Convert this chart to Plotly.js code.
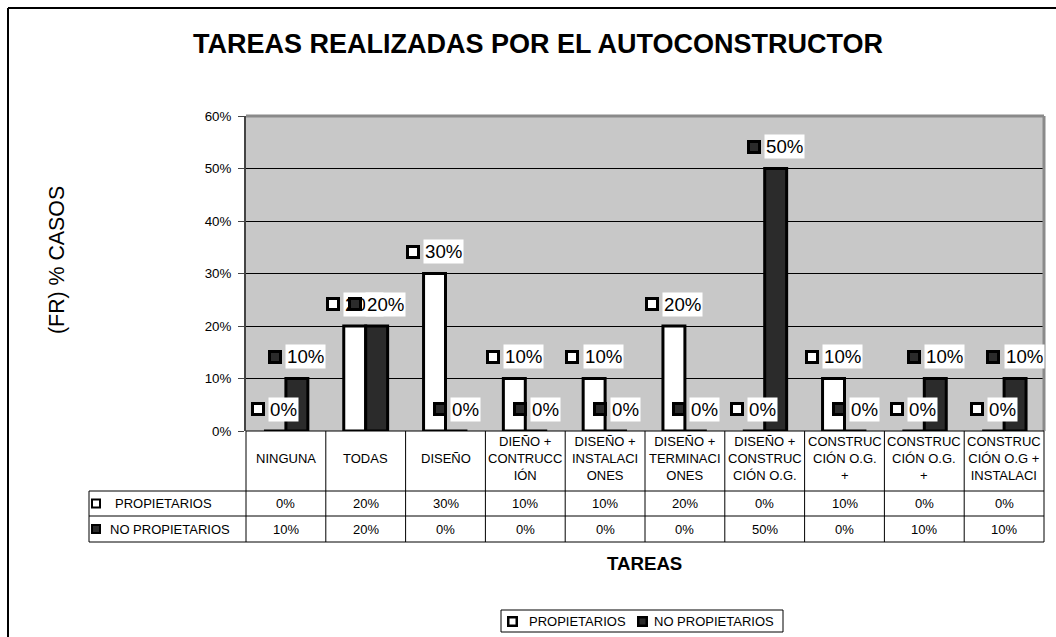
<!DOCTYPE html>
<html>
<head>
<meta charset="utf-8">
<script src="https://cdn.plot.ly/plotly-3.0.1.min.js"></script>
<style>
  html, body { margin: 0; padding: 0; background: #ffffff; }
  #chart { width: 1056px; height: 637px; }
</style>
</head>
<body>
<div id="chart"></div>
<script>
// ---------------- DATA ----------------
const categories = [
  'NINGUNA', 'TODAS', 'DISEÑO', 'DIEÑO + CONTRUCCIÓN', 'DISEÑO + INSTALACIONES',
  'DISEÑO + TERMINACIONES', 'DISEÑO + CONSTRUCCIÓN O.G.', 'CONSTRUCCIÓN O.G. + (a)',
  'CONSTRUCCIÓN O.G. + (b)', 'CONSTRUCCIÓN O.G + INSTALACI'
];
const tickLabels = [
  'NINGUNA', 'TODAS', 'DISEÑO', 'DIEÑO +<br>CONTRUCC<br>IÓN', 'DISEÑO +<br>INSTALACI<br>ONES',
  'DISEÑO +<br>TERMINACI<br>ONES', 'DISEÑO +<br>CONSTRUC<br>CIÓN O.G.', 'CONSTRUC<br>CIÓN O.G.<br>+',
  'CONSTRUC<br>CIÓN O.G.<br>+', 'CONSTRUC<br>CIÓN O.G +<br>INSTALACI'
];
const propietarios   = [0, 20, 30, 10, 10, 20, 0, 10, 0, 0];
const noPropietarios = [10, 20, 0, 0, 0, 0, 50, 0, 10, 10];
const seriesNames = ['PROPIETARIOS', 'NO PROPIETARIOS'];
const yTickValues = [0, 10, 20, 30, 40, 50, 60];
const chartTitle = 'TAREAS REALIZADAS POR EL AUTOCONSTRUCTOR';
const xTitle = 'TAREAS';
const yTitle = '(FR) % CASOS';

// ---------------- STYLE / GEOMETRY ----------------
const FONT = 'Liberation Sans, Arial, sans-serif';
const W = 1056, H = 637;
const L = 246, R = 1044, T = 116, B = 431;      // plot area in pixels
const fx = px => (px - L) / (R - L);             // pixel -> paper x
const fy = py => (B - py) / (B - T);             // pixel -> paper y
const BARGAP = 0.45;
const fills = ['#ffffff', '#2b2b2b'];
const nCat = categories.length;
const catPx = (R - L) / nCat;
const barPx = catPx * (1 - BARGAP) / 2;
const offsets = [-barPx / 2, barPx / 2];
const xs = categories.map((_, i) => i);
const series = [propietarios, noPropietarios];

const canvas = document.createElement('canvas');
const ctx = canvas.getContext('2d');
function textWidth(t, size) {
  ctx.font = size + 'px "Liberation Sans", Arial, sans-serif';
  return ctx.measureText(t).width;
}
const pct = v => v + '%';

// ---------------- TRACES ----------------
const traces = series.map((vals, s) => ({
  type: 'bar',
  name: seriesNames[s],
  x: xs,
  y: vals,
  marker: { color: fills[s], line: { color: '#000000', width: 3 } },
  hoverinfo: 'skip'
}));

// ---------------- ANNOTATIONS ----------------
const annotations = [];
const LBL = 18.67;
function keyBox(extra, fill, size, bw) {
  return Object.assign({
    text: ' ', showarrow: false, width: size, height: size,
    bgcolor: fill, bordercolor: '#000000', borderwidth: bw, borderpad: 0,
    font: { size: 1 }, xanchor: 'center', yanchor: 'middle'
  }, extra);
}
series.forEach((vals, s) => {
  vals.forEach((v, i) => {
    const t = pct(v);
    const tw = textWidth(t, LBL) + 2;
    // legend key square of the data label
    annotations.push(keyBox({
      x: xs[i], y: v, xref: 'x', yref: 'y', xshift: offsets[s] - 2 - tw / 2, yshift: 22
    }, fills[s], 8, 3));
    // value text
    annotations.push({
      x: xs[i], y: v, xref: 'x', yref: 'y',
      xshift: offsets[s] + 9, yshift: 22,
      text: t, showarrow: false, bgcolor: '#ffffff', borderpad: 1,
      font: { family: FONT, size: LBL, color: '#000000' },
      xanchor: 'center', yanchor: 'middle'
    });
  });
});

// data table: header row (category labels)
tickLabels.forEach((lab, i) => {
  annotations.push({
    x: xs[i], y: fy(458), xref: 'x', yref: 'paper', text: lab, showarrow: false,
    font: { family: FONT, size: 13, color: '#000000' }, xanchor: 'center', yanchor: 'middle'
  });
});
// data table: value rows
const rowY = [fy(503.5), fy(529)];
series.forEach((vals, s) => {
  vals.forEach((v, i) => {
    annotations.push({
      x: xs[i], y: rowY[s], xref: 'x', yref: 'paper', text: pct(v), showarrow: false,
      font: { family: FONT, size: 13, color: '#000000' }, xanchor: 'center', yanchor: 'middle'
    });
  });
});
// data table: row headers
const rowTextX = [fx(113), fx(108)];
seriesNames.forEach((nm, s) => {
  annotations.push({
    x: rowTextX[s], y: rowY[s], xref: 'paper', yref: 'paper', text: nm, showarrow: false,
    font: { family: FONT, size: 13, color: '#000000' }, xanchor: 'left', yanchor: 'middle'
  });
});
// legend (drawn as in the reference: box, key squares, names)
const legY = fy(621);
const legKeyX = [512, 642.5];
const legTextX = [527, 652];
seriesNames.forEach((nm, s) => {
  annotations.push(keyBox({ x: fx(legKeyX[s]), y: legY, xref: 'paper', yref: 'paper' }, fills[s], 6, 2.5));
  annotations.push({
    x: fx(legTextX[s]), y: legY, xref: 'paper', yref: 'paper', text: nm, showarrow: false,
    font: { family: FONT, size: 13, color: '#000000' }, xanchor: 'left', yanchor: 'middle'
  });
});
// axis titles
annotations.push({
  x: fx(57), y: fy(260), xref: 'paper', yref: 'paper', text: yTitle, textangle: -90,
  showarrow: false, font: { family: FONT, size: 21.33, color: '#000000' },
  xanchor: 'center', yanchor: 'middle'
});
annotations.push({
  x: fx(644.5), y: fy(563), xref: 'paper', yref: 'paper', text: '<b>' + xTitle + '</b>',
  showarrow: false, font: { family: FONT, size: 18.67, color: '#000000' },
  xanchor: 'center', yanchor: 'middle'
});

// ---------------- SHAPES ----------------
const shapes = [];
const blackLine = { color: '#000000', width: 1 };
// outer chart frame (top + left)
shapes.push({ type: 'line', xref: 'paper', yref: 'paper', x0: fx(8), x1: fx(W + 10), y0: fy(8), y1: fy(8), line: { color: '#000000', width: 2 } });
shapes.push({ type: 'line', xref: 'paper', yref: 'paper', x0: fx(8), x1: fx(8), y0: fy(8), y1: fy(H + 10), line: { color: '#000000', width: 2 } });
// plot area border (top + right)
shapes.push({ type: 'line', xref: 'paper', yref: 'paper', x0: 0, x1: 1, y0: 1, y1: 1, line: { color: '#8a8a8a', width: 3 } });
shapes.push({ type: 'line', xref: 'paper', yref: 'paper', x0: 1, x1: 1, y0: 0, y1: 1, line: { color: '#8a8a8a', width: 3 } });
// table grid
const tTop = 0, tHead = fy(491), tRow = fy(516), tBot = fy(542), tLeft = fx(89);
for (let k = 0; k <= nCat; k++) {
  const xp = k / nCat;
  shapes.push({ type: 'line', xref: 'paper', yref: 'paper', x0: xp, x1: xp, y0: tTop, y1: tBot, line: blackLine });
}
shapes.push({ type: 'line', xref: 'paper', yref: 'paper', x0: 0, x1: 1, y0: tTop, y1: tTop, line: blackLine });
[tHead, tRow, tBot].forEach(yp => {
  shapes.push({ type: 'line', xref: 'paper', yref: 'paper', x0: tLeft, x1: 1, y0: yp, y1: yp, line: blackLine });
});
shapes.push({ type: 'line', xref: 'paper', yref: 'paper', x0: tLeft, x1: tLeft, y0: tHead, y1: tBot, line: blackLine });
// row header key squares
rowY.forEach((yp, s) => {
  const cy = B - yp * (B - T);
  shapes.push({
    type: 'rect', xref: 'paper', yref: 'paper',
    x0: fx(92), x1: fx(100), y0: fy(cy + 4), y1: fy(cy - 4),
    fillcolor: fills[s], line: { color: '#000000', width: 2 }
  });
});
// legend box
shapes.push({
  type: 'rect', xref: 'paper', yref: 'paper',
  x0: fx(501), x1: fx(783), y0: fy(632), y1: fy(610),
  fillcolor: '#ffffff', line: { color: '#000000', width: 1 }, layer: 'below'
});

// ---------------- LAYOUT ----------------
const layout = {
  width: W, height: H,
  margin: { l: L, r: W - R, t: T, b: H - B, pad: 0 },
  paper_bgcolor: '#ffffff',
  plot_bgcolor: '#c8c8c8',
  font: { family: FONT, color: '#000000' },
  title: {
    text: '<b>' + chartTitle + '</b>',
    font: { family: FONT, size: 27, color: '#000000' },
    xref: 'container', yref: 'container', x: 538 / W, y: 1 - 44 / H,
    xanchor: 'center', yanchor: 'middle'
  },
  barmode: 'group',
  bargap: BARGAP,
  bargroupgap: 0,
  showlegend: false,
  xaxis: {
    type: 'linear', range: [-0.5, nCat - 0.5], showticklabels: false, showgrid: false,
    zeroline: false, showline: false, ticks: '', fixedrange: true
  },
  yaxis: {
    range: [0, 60], tickvals: yTickValues, ticktext: yTickValues.map(pct),
    showgrid: true, gridcolor: '#000000', gridwidth: 1,
    zeroline: false, showline: true, linecolor: '#444444', linewidth: 2,
    ticks: 'outside', ticklen: 6, tickcolor: '#444444', tickwidth: 1,
    ticklabelstandoff: 4,
    tickfont: { family: FONT, size: 13.33, color: '#000000' }, fixedrange: true
  },
  hovermode: false,
  annotations: annotations,
  shapes: shapes
};

Plotly.newPlot('chart', traces, layout, { displayModeBar: false, staticPlot: true });
</script>
</body>
</html>
